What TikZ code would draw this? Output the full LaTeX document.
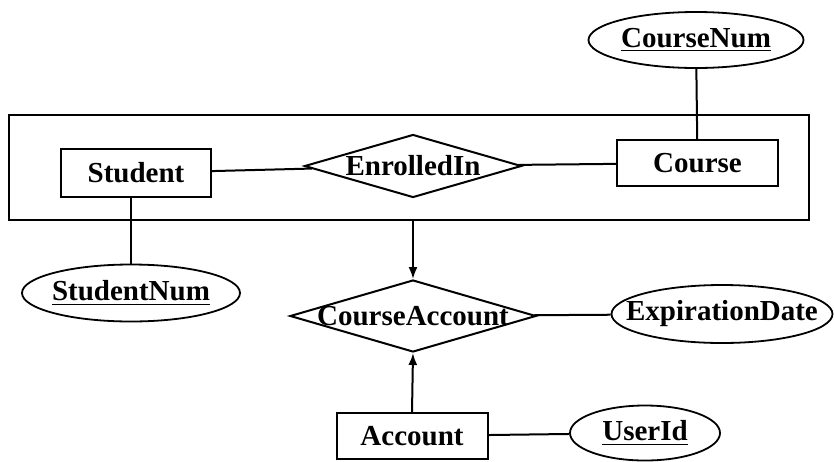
\documentclass[tikz,border=0pt]{standalone}
\usepackage{fontspec}
\setmainfont{Liberation Serif}
\usetikzlibrary{shapes.geometric,arrows.meta}
\begin{document}
\begin{tikzpicture}[x=0.5pt,y=-0.5pt,
  every node/.style={font=\fontsize{14.5}{16}\selectfont\bfseries},
  ent/.style={draw,line width=1pt,rectangle,inner sep=0pt},
  rel/.style={draw,line width=1pt,diamond,inner sep=0pt,aspect=3},
  att/.style={draw,line width=0.9pt,ellipse,inner sep=0pt},
  conn/.style={line width=1pt},
  arr/.style={line width=1pt,-{Latex[length=6pt,width=4.5pt]}}]
\useasboundingbox (0,0) rectangle (834,461);
% aggregation box
\node[ent,minimum width=400pt,minimum height=52.5pt] (agg) at (409,167) {};
% entities
\node[ent,minimum width=75pt,minimum height=24pt] (stu) at (136,173) {Student};
\node[ent,minimum width=80.5pt,minimum height=23pt] (crs) at (697.5,163) {Course};
\node[ent,minimum width=75.5pt,minimum height=23pt] (acc) at (412,436) {Account};
% relationships
\node[rel,minimum width=108.5pt,minimum height=31.5pt,label=center:EnrolledIn] (enr) at (413,166) {};
\node[rel,minimum width=123pt,minimum height=36pt,label=center:CourseAccount] (ca) at (413,316) {};
% attributes
\node[att,minimum width=107.5pt,minimum height=28pt,label=center:\underline{CourseNum}] (cn) at (696,40) {};
\node[att,minimum width=109pt,minimum height=28.5pt,label=center:\underline{StudentNum}] (sn) at (131,293) {};
\node[att,minimum width=110.5pt,minimum height=29pt,label=center:ExpirationDate] (ed) at (722,314) {};
\node[att,minimum width=75pt,minimum height=27.5pt,label=center:\underline{UserId}] (uid) at (645,433) {};
% connectors
\draw[conn] (stu) -- (enr);
\draw[conn] (enr) -- (crs);
\draw[conn] (cn) -- (crs);
\draw[conn] (sn.north) -- (sn.north |- stu.south);
\draw[arr] (agg.south -| ca.north) -- (ca.north);
\draw[arr] (acc.north) -- (ca.south);
\draw[conn] (ca) -- (ed);
\draw[conn] (acc) -- (uid);
\end{tikzpicture}
\end{document}
